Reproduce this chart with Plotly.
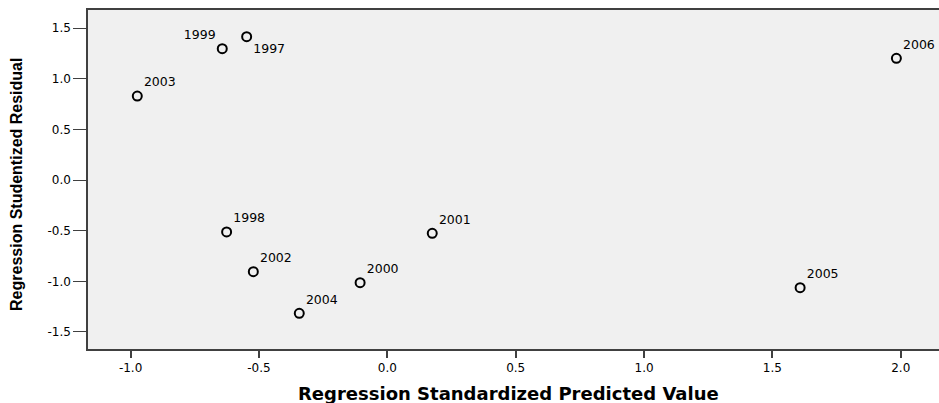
import plotly.graph_objects as go

# Data
years = ["1997", "1998", "1999", "2000", "2001", "2002", "2003", "2004", "2005", "2006"]
predicted = [-0.548, -0.626, -0.643, -0.106, 0.175, -0.522, -0.974, -0.343, 1.608, 1.983]
residual = [1.415, -0.513, 1.296, -1.013, -0.526, -0.905, 0.829, -1.316, -1.063, 1.201]
label_pos = ["bottom right", "top right", "top left", "top right", "top right",
             "top right", "top right", "top right", "top right", "top right"]

x_ticks = [-1.0, -0.5, 0.0, 0.5, 1.0, 1.5, 2.0]
y_ticks = [-1.5, -1.0, -0.5, 0.0, 0.5, 1.0, 1.5]
x_title = "Regression Standardized Predicted Value"
y_title = "Regression Studentized Residual"

tick_font = dict(family="DejaVu Sans", size=12, color="#000000")

fig = go.Figure()
fig.add_trace(go.Scatter(
    x=predicted, y=residual, text=years,
    mode="markers+text",
    textposition=label_pos,
    textfont=dict(family="DejaVu Sans", size=12.5, color="#000000"),
    marker=dict(symbol="circle-open", size=9, color="#000000", line=dict(width=2, color="#000000")),
    cliponaxis=False,
    hoverinfo="skip",
    showlegend=False,
))

fig.update_layout(
    width=939, height=403,
    margin=dict(l=88, r=0, t=10, b=54),
    paper_bgcolor="#ffffff",
    plot_bgcolor="#f0f0f0",
    font=dict(family="DejaVu Sans", color="#000000"),
    xaxis=dict(
        range=[-1.166, 2.149],
        tickvals=x_ticks,
        ticktext=[f"{v:.1f}" for v in x_ticks],
        ticks="outside", ticklen=7, tickwidth=2, tickcolor="#404040",
        tickfont=tick_font,
        showline=True, linecolor="#404040", linewidth=1.5, mirror=True,
        showgrid=False, zeroline=False,
    ),
    yaxis=dict(
        range=[-1.668, 1.678],
        tickvals=y_ticks,
        ticktext=[f"{v:.1f}" for v in y_ticks],
        ticks="outside", ticklen=13, tickwidth=1, tickcolor="#404040",
        tickfont=tick_font,
        showline=True, linecolor="#404040", linewidth=1.5,
        showgrid=False, zeroline=False,
    ),
    annotations=[
        dict(text=x_title, xref="paper", yref="paper", x=0.4947, y=-0.13,
             xanchor="center", yanchor="middle", showarrow=False,
             font=dict(family="DejaVu Sans", size=18, color="#000000", weight="bold")),
        dict(text=y_title, xref="paper", yref="paper", x=-0.0834, y=0.484,
             xanchor="center", yanchor="middle", showarrow=False, textangle=-90,
             font=dict(family="Liberation Sans", size=16, color="#000000", weight="bold")),
    ],
)

fig.write_html("out.html", config={"displayModeBar": False},
               post_script="document.body.style.margin='0px';")
